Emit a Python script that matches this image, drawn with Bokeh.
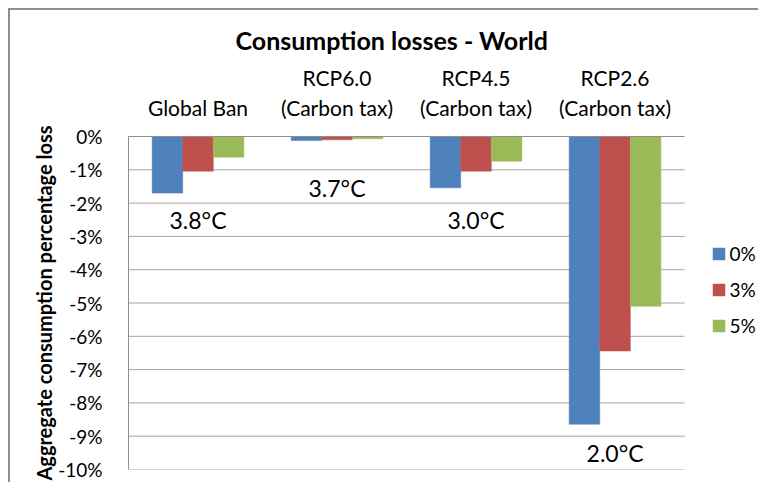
from bokeh.plotting import figure
from bokeh.models import (ColumnDataSource, Range1d, FixedTicker, NumeralTickFormatter,
                          Legend, LegendItem)
from bokeh.transform import dodge
from bokeh.core.properties import value
from bokeh.embed import file_html
from bokeh.resources import INLINE

categories = ["Global Ban", "RCP6.0\n(Carbon tax)", "RCP4.5\n(Carbon tax)", "RCP2.6\n(Carbon tax)"]
rate_0 = [-0.0170, -0.0012, -0.0154, -0.0864]
rate_3 = [-0.0104, -0.0010, -0.0104, -0.0644]
rate_5 = [-0.0062, -0.0007, -0.0074, -0.0510]
series_labels = ["0%", "3%", "5%"]
temp_labels = ["3.8°C", "3.7°C", "3.0°C", "2.0°C"]
temp_y = [-0.025, -0.0155, -0.025, -0.095]
y_ticks = [0.0, -0.01, -0.02, -0.03, -0.04, -0.05, -0.06, -0.07, -0.08, -0.09, -0.10]

colors = ["#4F81BD", "#C0504D", "#9BBB59"]
FONT = "Lato"
GRID = "#A6A6A6"

n = len(categories)
idx = list(range(n))
cat_lo, cat_hi = -0.5, n - 0.5
legend_room = 0.532  # extra x-room to the right of the categories for the legend

src = ColumnDataSource(dict(x=idx, r0=rate_0, r3=rate_3, r5=rate_5, tl=temp_labels, ty=temp_y))

p = figure(x_range=Range1d(cat_lo, cat_hi + legend_room), y_range=Range1d(-0.10, 0.0),
           width=750, height=474, output_backend="svg", toolbar_location=None,
           x_axis_location="above", title="Consumption losses - World",
           min_border_left=118, min_border_right=2, min_border_top=126, min_border_bottom=15,
           styles={"margin-left": "8px", "margin-top": "8px",
                   "border-left": "2px solid #8E8E8E", "border-top": "2px solid #8E8E8E"})

p.title.align = "left"
p.title.offset = 107
p.title.standoff = 14
p.title.text_font = FONT
p.title.text_font_size = "25px"
p.title.text_font_style = "bold"
p.title.text_color = "black"

# horizontal gridlines limited to the category area
p.segment(x0=[cat_lo] * len(y_ticks), x1=[cat_hi] * len(y_ticks), y0=y_ticks, y1=y_ticks,
          line_color=GRID, line_width=1)

bw = 0.22
renderers = []
for key, off, col in zip(["r0", "r3", "r5"], [-bw, 0.0, bw], colors):
    r = p.vbar(x=dodge("x", off), top=key, bottom=0, width=bw, source=src,
               fill_color=col, line_color=col, line_width=0.5)
    renderers.append(r)

p.text(x="x", y="ty", text="tl", source=src, text_align="center", text_baseline="middle",
       text_font=value(FONT), text_font_size="23px", text_color="black")

# category axis on top
xa = p.xaxis[0]
xa.ticker = FixedTicker(ticks=idx)
xa.major_label_overrides = {i: c for i, c in zip(idx, categories)}
xa.bounds = (cat_lo, cat_hi)
xa.major_tick_line_color = None
xa.minor_tick_line_color = None
xa.axis_line_color = "#8E8E8E"
xa.major_label_text_font = FONT
xa.major_label_text_font_size = "21px"
xa.major_label_text_color = "black"
xa.major_label_standoff = 11

ya = p.yaxis[0]
ya.ticker = FixedTicker(ticks=y_ticks)
ya.formatter = NumeralTickFormatter(format="0%")
ya.major_tick_line_color = None
ya.minor_tick_line_color = None
ya.axis_line_color = "#8E8E8E"
ya.major_label_text_font = FONT
ya.major_label_text_font_size = "19px"
ya.major_label_text_color = "black"
ya.major_label_standoff = 20
ya.axis_label = "Aggregate consumption percentage loss"
ya.axis_label_text_font = FONT
ya.axis_label_text_font_size = "20px"
ya.axis_label_text_font_style = "bold"
ya.axis_label_text_color = "black"
ya.axis_label_standoff = -1

p.xgrid.visible = False
p.ygrid.visible = False
p.outline_line_color = None

legend = Legend(items=[LegendItem(label=l, renderers=[r]) for l, r in zip(series_labels, renderers)],
                location=(582.5, 132.5), padding=0, margin=0, spacing=13,
                glyph_width=15, glyph_height=15, label_standoff=4,
                label_text_font=FONT, label_text_font_size="19px", label_text_color="black",
                border_line_color=None, background_fill_alpha=0)
p.add_layout(legend, "center")

open("out.html", "w").write(file_html(p, INLINE))
